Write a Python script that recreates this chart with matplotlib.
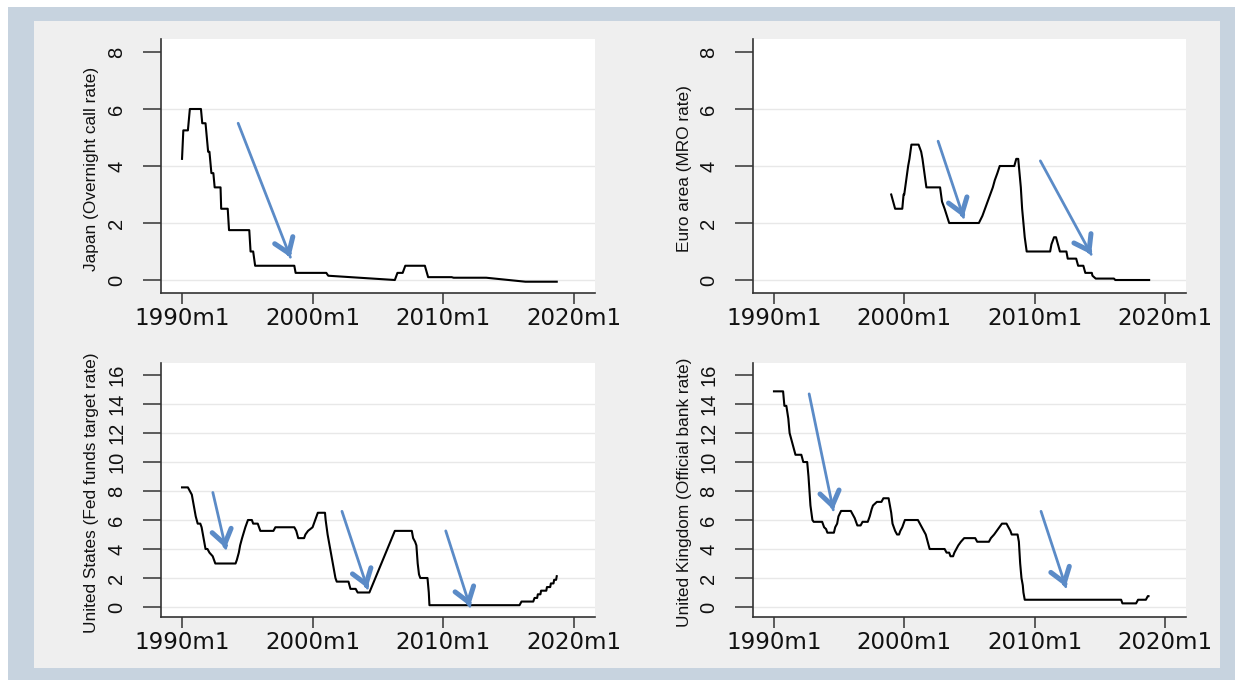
import matplotlib
matplotlib.use('Agg')
import matplotlib.pyplot as plt
from matplotlib.patches import Rectangle

# policy rates, (year, percent)
japan = [(1990.0, 4.25), (1990.1, 5.25), (1990.45, 5.25), (1990.6, 6.0), (1991.45, 6.0),
         (1991.55, 5.5), (1991.8, 5.5), (1992.0, 4.5), (1992.1, 4.5), (1992.25, 3.75),
         (1992.4, 3.75), (1992.5, 3.25), (1992.95, 3.25), (1993.0, 2.5), (1993.5, 2.5),
         (1993.6, 1.75), (1995.15, 1.75), (1995.25, 1.0), (1995.45, 1.0), (1995.6, 0.5),
         (1998.6, 0.5), (1998.7, 0.25), (2001.05, 0.25), (2001.2, 0.15), (2006.3, 0.0),
         (2006.5, 0.25), (2006.9, 0.25), (2007.1, 0.5), (2008.6, 0.5), (2008.85, 0.1),
         (2010.65, 0.1), (2010.8, 0.08), (2013.3, 0.08), (2016.3, -0.06), (2018.7, -0.06)]

euro = [(1999.0, 3.0), (1999.3, 2.5), (1999.85, 2.5), (1999.95, 3.0), (2000.0, 3.0),
        (2000.15, 3.5), (2000.3, 4.0), (2000.4, 4.25), (2000.55, 4.75), (2001.1, 4.75),
        (2001.3, 4.5), (2001.4, 4.25), (2001.55, 3.75), (2001.7, 3.25), (2002.75, 3.25),
        (2002.9, 2.75), (2003.1, 2.5), (2003.45, 2.0), (2005.73, 2.0), (2006.0, 2.25),
        (2006.2, 2.5), (2006.4, 2.75), (2006.6, 3.0), (2006.8, 3.25), (2006.95, 3.5),
        (2007.15, 3.75), (2007.33, 4.0), (2008.45, 4.0), (2008.6, 4.25), (2008.75, 4.25),
        (2008.85, 3.75), (2008.95, 3.25), (2009.05, 2.5), (2009.15, 2.0), (2009.25, 1.5),
        (2009.4, 1.0), (2011.2, 1.0), (2011.3, 1.25), (2011.5, 1.5), (2011.65, 1.5),
        (2011.8, 1.25), (2011.95, 1.0), (2012.45, 1.0), (2012.55, 0.75), (2013.2, 0.75),
        (2013.35, 0.5), (2013.75, 0.5), (2013.9, 0.25), (2014.4, 0.25), (2014.45, 0.15),
        (2014.7, 0.05), (2016.1, 0.05), (2016.2, 0.0), (2018.8, 0.0)]

usa = [(1990.0, 8.25), (1990.45, 8.25), (1990.6, 8.0), (1990.75, 7.75), (1990.85, 7.25),
       (1990.95, 6.75), (1991.05, 6.25), (1991.2, 5.75), (1991.4, 5.75), (1991.5, 5.5),
       (1991.6, 5.0), (1991.7, 4.5), (1991.8, 4.0), (1991.95, 4.0), (1992.1, 3.75),
       (1992.35, 3.5), (1992.55, 3.0), (1994.1, 3.0), (1994.2, 3.25), (1994.35, 3.75),
       (1994.45, 4.25), (1994.6, 4.75), (1994.85, 5.5), (1995.05, 6.0), (1995.35, 6.0),
       (1995.45, 5.75), (1995.8, 5.75), (1996.0, 5.25), (1997.0, 5.25), (1997.15, 5.5),
       (1998.6, 5.5), (1998.75, 5.25), (1998.9, 4.75), (1999.35, 4.75), (1999.45, 5.0),
       (1999.65, 5.25), (2000.0, 5.5), (2000.2, 6.0), (2000.4, 6.5), (2000.95, 6.5),
       (2001.0, 6.0), (2001.15, 5.0), (2001.25, 4.5), (2001.35, 4.0), (2001.45, 3.5),
       (2001.55, 3.0), (2001.65, 2.5), (2001.75, 2.0), (2001.85, 1.75), (2002.75, 1.75),
       (2002.9, 1.25), (2003.3, 1.25), (2003.45, 1.0), (2004.35, 1.0), (2006.3, 5.25),
       (2007.6, 5.25), (2007.7, 4.75), (2007.85, 4.5), (2007.95, 4.25), (2008.05, 3.0),
       (2008.15, 2.25), (2008.25, 2.0), (2008.8, 2.0), (2008.85, 1.5), (2008.9, 1.0),
       (2008.95, 0.125), (2015.85, 0.125), (2016.0, 0.375), (2016.9, 0.375),
       (2017.0, 0.625), (2017.2, 0.625), (2017.25, 0.875), (2017.45, 0.875),
       (2017.5, 1.125), (2017.9, 1.125), (2017.95, 1.375), (2018.2, 1.375),
       (2018.25, 1.625), (2018.45, 1.625), (2018.5, 1.875), (2018.65, 1.875),
       (2018.7, 2.125)]

uk = [(1990.0, 14.875), (1990.7, 14.875), (1990.8, 13.875), (1990.95, 13.875),
      (1991.1, 13.0), (1991.2, 12.0), (1991.35, 11.5), (1991.5, 11.0), (1991.65, 10.5),
      (1992.1, 10.5), (1992.25, 10.0), (1992.55, 10.0), (1992.65, 9.0), (1992.8, 7.0),
      (1992.95, 6.0), (1993.05, 5.875), (1993.7, 5.875), (1993.85, 5.5), (1994.0, 5.375),
      (1994.1, 5.125), (1994.6, 5.125), (1994.7, 5.5), (1994.85, 5.75), (1994.95, 6.25),
      (1995.15, 6.625), (1995.9, 6.625), (1996.05, 6.375), (1996.2, 6.125),
      (1996.3, 5.875), (1996.4, 5.625), (1996.65, 5.625), (1996.8, 5.875),
      (1997.2, 5.875), (1997.35, 6.25), (1997.5, 6.75), (1997.6, 7.0), (1997.9, 7.25),
      (1998.25, 7.25), (1998.4, 7.5), (1998.8, 7.5), (1998.9, 7.0), (1999.0, 6.5),
      (1999.1, 5.75), (1999.3, 5.25), (1999.45, 5.0), (1999.6, 5.0), (1999.7, 5.25),
      (1999.85, 5.5), (1999.95, 5.75), (2000.05, 6.0), (2001.05, 6.0), (2001.2, 5.75),
      (2001.35, 5.5), (2001.5, 5.25), (2001.65, 5.0), (2001.8, 4.5), (2001.95, 4.0),
      (2003.1, 4.0), (2003.25, 3.75), (2003.45, 3.75), (2003.55, 3.5), (2003.75, 3.5),
      (2003.85, 3.75), (2004.0, 4.0), (2004.15, 4.25), (2004.35, 4.5), (2004.6, 4.75),
      (2005.45, 4.75), (2005.6, 4.5), (2006.5, 4.5), (2006.65, 4.75), (2006.9, 5.0),
      (2007.1, 5.25), (2007.3, 5.5), (2007.5, 5.75), (2007.85, 5.75), (2008.0, 5.5),
      (2008.15, 5.25), (2008.25, 5.0), (2008.7, 5.0), (2008.8, 4.5), (2008.9, 3.0),
      (2009.0, 2.0), (2009.1, 1.5), (2009.15, 1.0), (2009.25, 0.5), (2016.65, 0.5),
      (2016.75, 0.25), (2017.8, 0.25), (2017.95, 0.5), (2018.55, 0.5), (2018.7, 0.75),
      (2018.75, 0.75)]

# blue annotation arrows: (tail, tip)
japan_arrows = [((1994.3, 5.5), (1998.3, 0.8))]
euro_arrows = [((2002.6, 4.87), (2004.55, 2.2)), ((2010.45, 4.18), (2014.35, 0.9))]
usa_arrows = [((1992.36, 7.9), (1993.35, 4.05)), ((2002.25, 6.6), (2004.2, 1.3)),
              ((2010.2, 5.25), (2012.05, 0.05))]
uk_arrows = [((1992.7, 14.7), (1994.55, 6.7)), ((2010.5, 6.6), (2012.4, 1.4))]

year_ticks = [1990, 2000, 2010, 2020]
year_labels = ['1990m1', '2000m1', '2010m1', '2020m1']
small_ticks = [0, 2, 4, 6, 8]
big_ticks = [0, 2, 4, 6, 8, 10, 12, 14, 16]

W, H = 1235, 680
ARROW = '#5b8bc7'
SANS = ['Liberation Sans', 'DejaVu Sans']

fig = plt.figure(figsize=(W / 100, H / 100), dpi=100)
fig.patch.set_facecolor('white')
fig.patches.append(Rectangle((8 / W, 0), 1 - 8 / W, 1 - 7 / H, transform=fig.transFigure,
                             facecolor='#c7d3df', edgecolor='none', zorder=-2))
fig.patches.append(Rectangle((34 / W, 12 / H), (1220 - 34) / W, (668 - 21) / H,
                             transform=fig.transFigure, facecolor='#efefef',
                             edgecolor='none', zorder=-1))


def make_axes(l, t, r, b):
    return fig.add_axes([l / W, 1 - b / H, (r - l) / W, (b - t) / H])


def draw_arrow(ax, tail, tip):
    ax.annotate('', xy=tip, xytext=tail,
                arrowprops=dict(arrowstyle='-', color=ARROW, lw=2.0, shrinkA=0, shrinkB=0))
    near = (tip[0] + 0.04 * (tail[0] - tip[0]), tip[1] + 0.04 * (tail[1] - tip[1]))
    ax.annotate('', xy=tip, xytext=near,
                arrowprops=dict(arrowstyle='->,head_length=1.0,head_width=0.7',
                                color=ARROW, lw=3.6, shrinkA=0, shrinkB=0,
                                joinstyle='round', capstyle='round'))


def panel(ax, series, arrows, label, yticks, ylim):
    x, y = zip(*series)
    ax.plot(x, y, color='black', lw=1.5, zorder=3)
    for tail, tip in arrows:
        draw_arrow(ax, tail, tip)
    for v in yticks[:-1]:
        ax.axhline(v, color='#e8e8e8', lw=1.0, zorder=1)
    ax.set_xlim(1988.39, 2021.63)
    ax.set_ylim(*ylim)
    ax.set_xticks(year_ticks)
    ax.set_xticklabels(year_labels, fontsize=16.5, family='DejaVu Sans', color='#111111')
    ax.set_yticks(yticks)
    ax.set_yticklabels([str(v) for v in yticks], fontsize=14.5, family=SANS,
                       rotation=90, va='center', color='#111111')
    ax.tick_params(axis='x', length=8, width=1.1, color='#333333', pad=2)
    ax.tick_params(axis='y', length=13, width=1.1, color='#333333', pad=12)
    for s in ['top', 'right']:
        ax.spines[s].set_visible(False)
    for s in ['left', 'bottom']:
        ax.spines[s].set_color('#333333')
        ax.spines[s].set_linewidth(1.2)
    ax.set_facecolor('white')
    ax.set_ylabel(label, fontsize=12.4, family=SANS, color='#111111')
    ax.yaxis.set_label_coords(-0.142, 0.49)


ax1 = make_axes(161, 39, 595, 293)
panel(ax1, japan, japan_arrows, 'Japan (Overnight call rate)', small_ticks, (-0.456, 8.456))
ax2 = make_axes(753, 39, 1186, 293)
panel(ax2, euro, euro_arrows, 'Euro area (MRO rate)', small_ticks, (-0.456, 8.456))
ax3 = make_axes(161, 363, 595, 617)
panel(ax3, usa, usa_arrows, 'United States (Fed funds target rate)', big_ticks, (-0.69, 16.83))
ax4 = make_axes(753, 363, 1186, 617)
panel(ax4, uk, uk_arrows, 'United Kingdom (Official bank rate)', big_ticks, (-0.69, 16.83))

fig.savefig('out.png', dpi=100, facecolor=fig.get_facecolor())
